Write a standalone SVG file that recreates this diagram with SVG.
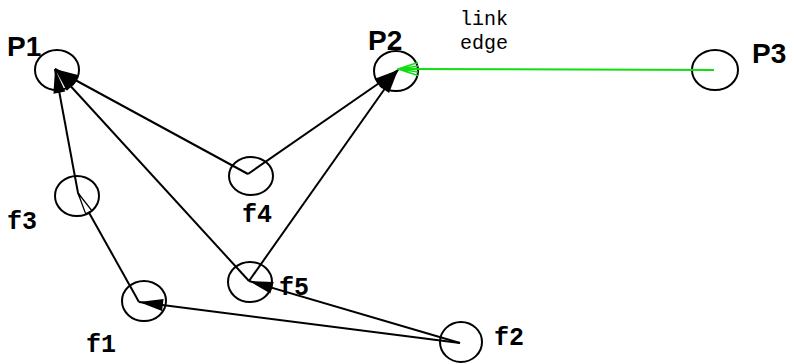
<svg xmlns="http://www.w3.org/2000/svg" width="794" height="364" viewBox="0 0 794 364">
<style>
.node{fill:none;stroke:#000;stroke-width:2}
.edge{fill:none;stroke:#000;stroke-width:2}
.green{fill:none;stroke:#11dd11;stroke-width:2}
.plabel{font-family:"Liberation Sans",Arial,sans-serif;font-weight:bold;font-size:28px;fill:#000}
.flabel{font-family:"Liberation Mono","Courier New",monospace;font-weight:bold;font-size:25px;fill:#000}
.elabel{font-family:"Liberation Mono","Courier New",monospace;font-size:20px;fill:#000}
</style>
<defs>
<marker id="arr" markerUnits="userSpaceOnUse" markerWidth="26" markerHeight="14" refX="0" refY="7" orient="auto" viewBox="0 0 26 14">
<path d="M0,7 L24,1 L24,13 Z" fill="#000"/>
</marker>
<marker id="arrOpen" markerUnits="userSpaceOnUse" markerWidth="24" markerHeight="10" refX="0" refY="5" orient="auto" viewBox="0 0 24 10">
<path d="M0,5 L22,1.5 L22,8.5 Z" fill="#fff" stroke="#000" stroke-width="1.3"/>
</marker>
<marker id="arrGreen" markerUnits="userSpaceOnUse" markerWidth="24" markerHeight="16" refX="1" refY="8" orient="auto" viewBox="0 0 24 16">
<path d="M21,1.5 L1,8 L21,14.5 M21,5 L1,8 L21,11" fill="none" stroke="#11dd11" stroke-width="1.6"/>
</marker>
</defs>
<g id="nodes">
<g id="P1"><ellipse class="node" cx="57" cy="70" rx="22" ry="20"/><text class="plabel" x="7" y="56">P1</text></g>
<g id="P2"><ellipse class="node" cx="396" cy="71" rx="22" ry="20"/><text class="plabel" x="368" y="50">P2</text></g>
<g id="P3"><ellipse class="node" cx="715" cy="70" rx="23" ry="20"/><text class="plabel" x="752" y="63">P3</text></g>
<g id="f3"><ellipse class="node" cx="77" cy="196" rx="22" ry="20"/><text class="flabel" x="7" y="229">f3</text></g>
<g id="f1"><ellipse class="node" cx="144" cy="301" rx="22" ry="20"/><text class="flabel" x="86" y="352">f1</text></g>
<g id="f4"><ellipse class="node" cx="251" cy="176" rx="22" ry="19"/><text class="flabel" x="242" y="222">f4</text></g>
<g id="f5"><ellipse class="node" cx="250" cy="282" rx="22" ry="20"/><text class="flabel" x="279" y="295">f5</text></g>
<g id="f2"><ellipse class="node" cx="461" cy="342" rx="21" ry="20"/><text class="flabel" x="494" y="345">f2</text></g>
</g>
<g id="connectors">
<line class="edge" x1="55" y1="69" x2="78" y2="193" marker-start="url(#arr)"/>
<line class="edge" x1="55" y1="69" x2="248" y2="174" marker-start="url(#arr)"/>
<line class="edge" x1="55" y1="69" x2="249" y2="281" marker-start="url(#arr)"/>
<line class="edge" x1="398" y1="70" x2="248" y2="174" marker-start="url(#arr)"/>
<line class="edge" x1="398" y1="70" x2="249" y2="281" marker-start="url(#arr)"/>
<line class="edge" x1="139" y1="302" x2="460" y2="343" marker-start="url(#arr)"/>
<line class="edge" x1="249" y1="281" x2="460" y2="343" marker-start="url(#arr)"/>
<line class="edge" x1="78" y1="193" x2="139" y2="302" marker-start="url(#arrOpen)"/>
<line class="green" x1="398" y1="69" x2="714" y2="70" marker-start="url(#arrGreen)"/>
<text class="elabel" x="460" y="25">link</text>
<text class="elabel" x="460" y="49">edge</text>
</g>
</svg>
